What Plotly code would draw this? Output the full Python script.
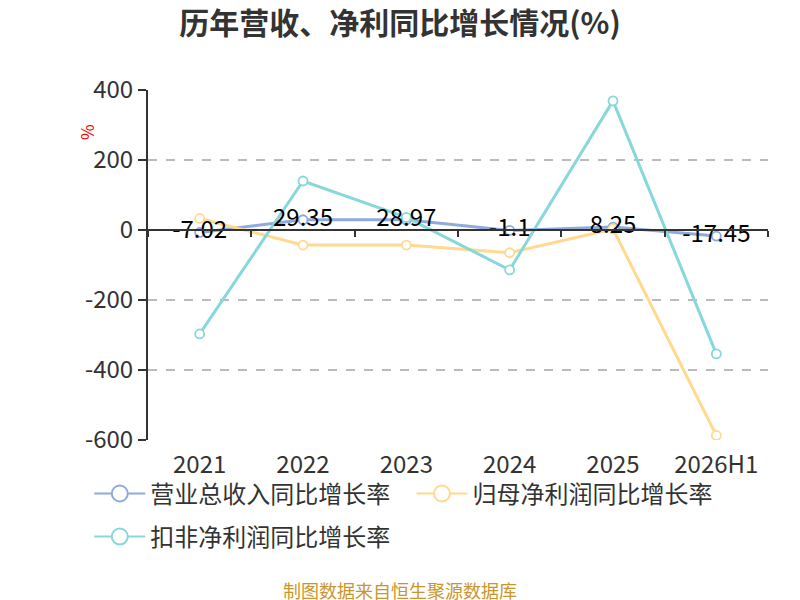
import plotly.graph_objects as go

categories = ["2021", "2022", "2023", "2024", "2025", "2026H1"]
revenue_growth = [-7.02, 29.35, 28.97, -1.1, 8.25, -17.45]
parent_profit_growth = [33, -43, -43, -65, 3, -587]
deducted_profit_growth = [-297, 140, 36, -114, 369, -354]
y_ticks = [400, 200, 0, -200, -400, -600]

FONT = "Noto Sans CJK SC"
series = [
    ("营业总收入同比增长率", revenue_growth, "#8FAADC", "legend"),
    ("归母净利润同比增长率", parent_profit_growth, "#FFD990", "legend2"),
    ("扣非净利润同比增长率", deducted_profit_growth, "#88D7DA", "legend3"),
]

fig = go.Figure()
for name, vals, color, lg in series:
    fig.add_trace(go.Scatter(
        x=categories, y=vals, name=name, mode="lines+markers",
        line=dict(color=color, width=3),
        marker=dict(symbol="circle", size=9, color="white",
                    line=dict(color=color, width=1.8)),
        showlegend=False,
    ))
    # legend-only entry with larger symbol
    fig.add_trace(go.Scatter(
        x=[None], y=[None], name=name, mode="lines+markers", legend=lg,
        line=dict(color=color, width=2),
        marker=dict(symbol="circle", size=16, color="white",
                    line=dict(color=color, width=2)),
        showlegend=True, hoverinfo="skip",
    ))

fig.add_trace(go.Scatter(
    x=categories, y=revenue_growth, mode="text",
    text=[str(v) for v in revenue_growth], textposition="middle center",
    textfont=dict(family=FONT, size=24, color="#000000"),
    showlegend=False, hoverinfo="skip",
))

# axis line at zero with boundary ticks
fig.add_trace(go.Scatter(x=categories, y=[None]*len(categories), xaxis="x2",
                         showlegend=False, hoverinfo="skip", mode="lines"))

legend_common = dict(orientation="h", xanchor="left", yanchor="middle",
                     font=dict(family=FONT, size=24, color="#333333"),
                     itemwidth=51, bgcolor="rgba(0,0,0,0)")

fig.update_layout(
    width=792, height=592,
    paper_bgcolor="white", plot_bgcolor="white",
    margin=dict(l=140, r=32, t=82, b=160),
    font=dict(family=FONT, color="#333333"),
    title=dict(text="<b>历年营收、净利同比增长情况(%)</b>", x=0.495, xanchor="center",
               y=0.974, yanchor="middle",
               font=dict(family=FONT, size=30, color="#333333")),
    xaxis=dict(type="category", categoryorder="array", categoryarray=categories,
               range=[-0.5, 5.5], showgrid=False, showline=False, ticks="",
               zeroline=False, ticklabelstandoff=8,
               tickfont=dict(family=FONT, size=24, color="#333333")),
    xaxis2=dict(type="category", categoryorder="array", categoryarray=categories,
                range=[-0.5, 5.5], overlaying="x", anchor="free", position=0.6,
                side="bottom", showline=True, linecolor="#333333", linewidth=2,
                ticks="outside", ticklen=6, tickcolor="#333333", tickwidth=1.5,
                tickson="boundaries", showticklabels=False, showgrid=False,
                zeroline=False),
    yaxis=dict(range=[-600, 400], tickvals=y_ticks,
               ticktext=[str(v) for v in y_ticks], showline=True,
               linecolor="#333333", linewidth=2, ticks="outside", ticklen=8,
               tickcolor="#333333", tickwidth=2,
               showgrid=True, gridcolor="#BBBBBB", griddash="dash", gridwidth=1.5,
               zeroline=False,
               tickfont=dict(family=FONT, size=24, color="#333333")),
    legend=dict(x=-0.0947, y=-0.154, **legend_common),
    legend2=dict(x=0.425, y=-0.154, **legend_common),
    legend3=dict(x=-0.0947, y=-0.277, **legend_common),
    showlegend=True,
    annotations=[
        dict(text="%", xref="paper", yref="paper", x=-0.1, y=0.88,
             xanchor="center", yanchor="middle",
             showarrow=False, textangle=-90,
             font=dict(family=FONT, size=17, color="#FF0000")),
        dict(text="制图数据来自恒生聚源数据库", xref="paper", yref="paper",
             x=0.406, y=-0.429, xanchor="center", yanchor="middle",
             showarrow=False,
             font=dict(family=FONT, size=18, color="#C9962C")),
    ],
)

fig.write_html("out.html")
